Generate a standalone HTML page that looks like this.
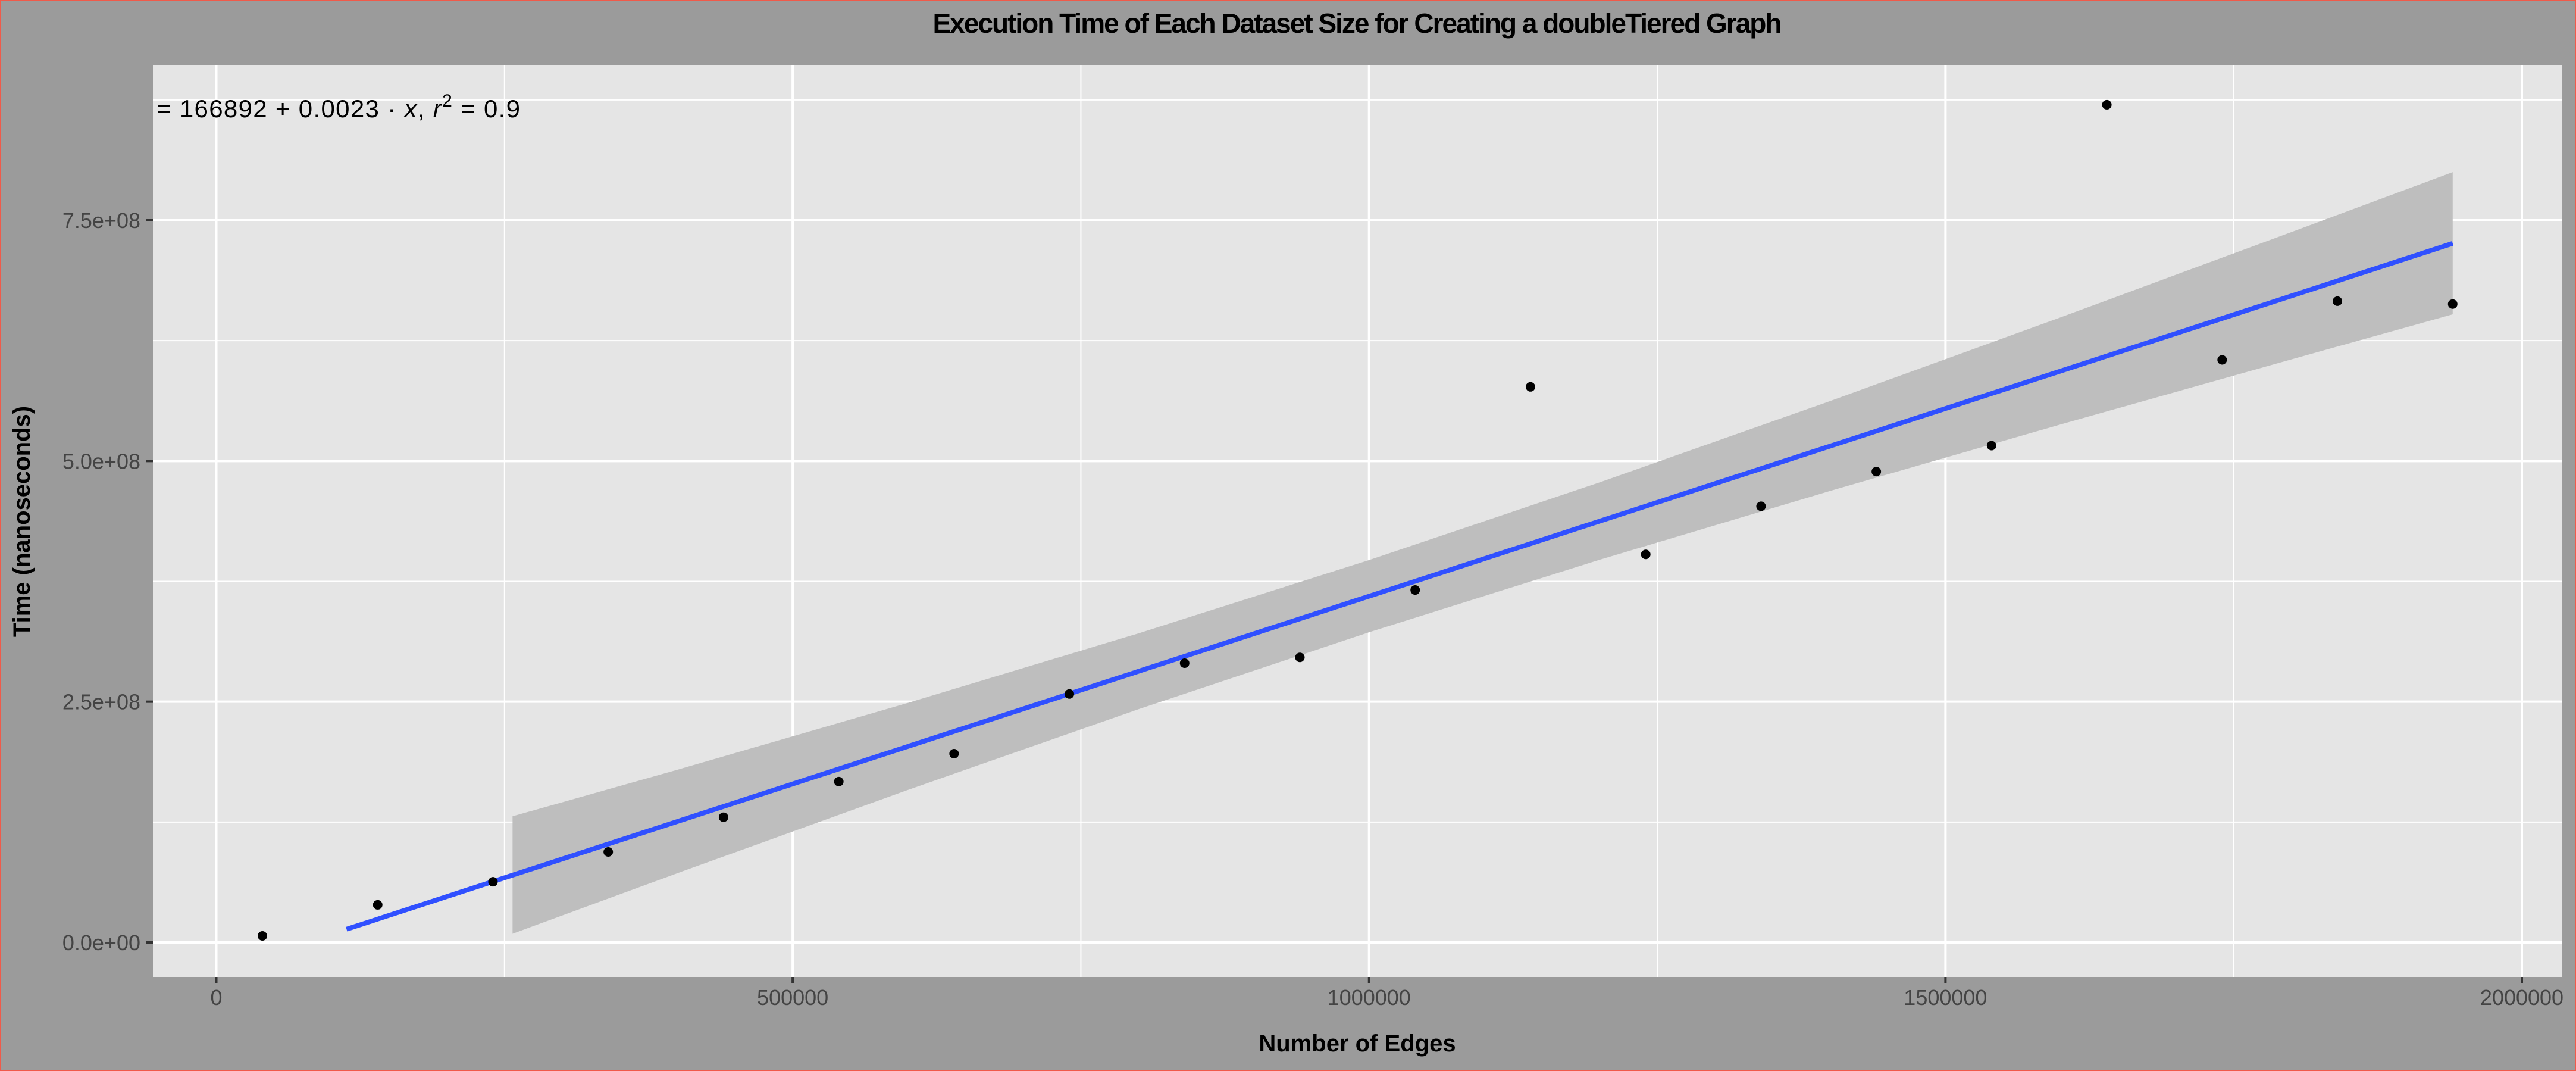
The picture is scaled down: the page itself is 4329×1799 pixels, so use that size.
<!DOCTYPE html>
<html><head><meta charset="utf-8">
<style>
html,body{margin:0;padding:0;background:#9b9b9b;}
svg{display:block;font-family:"Liberation Sans",sans-serif;}
</style></head>
<body>
<svg id="chart" width="4329" height="1799" viewBox="0 0 4329 1799">
<rect x="0" y="0" width="4329" height="1799" fill="#9b9b9b" stroke="#f05a4a" stroke-width="4"/>
<rect x="257" y="110" width="4049" height="1531" fill="#e5e5e5"/>
<g id="grid"></g>
<g id="band"></g>
<g id="trend"></g>
<g id="points"></g>
<g id="axes"></g>
<text x="2281" y="55" text-anchor="middle" font-size="46" font-weight="bold" fill="#000" textLength="1427">Execution Time of Each Dataset Size for Creating a doubleTiered Graph</text>
<text x="263" y="197" font-size="42" fill="#000" textLength="611">= 166892 + 0.0023 · <tspan font-style="italic">x</tspan>,  <tspan font-style="italic">r</tspan><tspan dy="-18" font-size="30">2</tspan><tspan dy="18"> = 0.9</tspan></text>
<text x="2281" y="1766" text-anchor="middle" font-size="40" font-weight="bold" fill="#000">Number of Edges</text>
<text transform="translate(50,876) rotate(-90)" text-anchor="middle" font-size="40" font-weight="bold" fill="#000">Time (nanoseconds)</text>
</svg>
<script>
const xValues = [40000,140000,240000,340000,440000,540000,640000,740000,840000,940000,1040000,1140000,1240000,1340000,1440000,1540000,1640000,1740000,1840000,1940000];
const yValues = [6.8e6,3.9e7,6.3e7,9.4e7,1.30e8,1.67e8,1.96e8,2.58e8,2.90e8,2.96e8,3.66e8,5.77e8,4.03e8,4.53e8,4.89e8,5.16e8,8.70e8,6.05e8,6.66e8,6.63e8];
const lineX = [113000,1940000];
const lineY = [1.37e7,7.26e8];
const bandX = [257000,400000,600000,800000,1000000,1200000,1400000,1600000,1800000,1940000];
const bandLo = [9.0e6,7.19e7,1.584e8,2.422e8,3.221e8,3.974e8,4.689e8,5.38e8,6.055e8,6.523e8];
const bandHi = [1.31e8,1.793e8,2.488e8,3.21e8,3.971e8,4.778e8,5.623e8,6.492e8,7.377e8,8.0e8];
const xTicks = [0,500000,1000000,1500000,2000000];
const xTickLabels = ["0","500000","1000000","1500000","2000000"];
const yTicks = [0,2.5e8,5e8,7.5e8];
const yTickLabels = ["0.0e+00","2.5e+08","5.0e+08","7.5e+08"];

const NS="http://www.w3.org/2000/svg";
const PL=257,PR=4306,PT=110,PB=1641;
function sx(v){return 363.5+(v/2000000)*(4238-363.5);}
function sy(v){return 1583-(v/7.5e8)*(1583-370);}
function mk(tag,attrs,parent){const e=document.createElementNS(NS,tag);for(const k in attrs)e.setAttribute(k,attrs[k]);parent.appendChild(e);return e;}
const grid=document.getElementById('grid');
for(let i=0;i<yTicks.length;i++){
  const v=yTicks[i]+1.25e8; const y=sy(v);
  if(y>PT&&y<PB){const l=mk('line',{x1:PL,x2:PR,y1:y,y2:y,stroke:'#fff','stroke-width':2},grid);
  
  }
}
for(let i=0;i<xTicks.length;i++){
  const v=xTicks[i]+250000; const x=sx(v);
  if(x>PL&&x<PR){const l=mk('line',{x1:x,x2:x,y1:PT,y2:PB,stroke:'#fff','stroke-width':2},grid);
  
  }
}
const axes=document.getElementById('axes');
yTicks.forEach((v,i)=>{
  const y=sy(v);
  const l=mk('line',{x1:PL,x2:PR,y1:y,y2:y,stroke:'#fff','stroke-width':4},grid);
  
  
  const t=mk('line',{x1:246,x2:PL,y1:y,y2:y,stroke:'#333','stroke-width':4},axes);
  
  
  const tx=mk('text',{x:236,y:y+13,'text-anchor':'end','font-size':36,fill:'#444'},axes);
  tx.textContent=yTickLabels[i];
  
  
});
xTicks.forEach((v,i)=>{
  const x=sx(v);
  const l=mk('line',{x1:x,x2:x,y1:PT,y2:PB,stroke:'#fff','stroke-width':4},grid);
  
  
  const t=mk('line',{x1:x,x2:x,y1:PB,y2:PB+11,stroke:'#333','stroke-width':4},axes);
  
  
  const tx=mk('text',{x:x,y:1688,'text-anchor':'middle','font-size':36,fill:'#444'},axes);
  tx.textContent=xTickLabels[i];
  
  
});
const band=document.getElementById('band');
let pts=[];
for(let i=0;i<bandX.length;i++)pts.push(sx(bandX[i])+','+sy(bandHi[i]));
for(let i=bandX.length-1;i>=0;i--)pts.push(sx(bandX[i])+','+sy(bandLo[i]));
const bp=mk('polygon',{points:pts.join(' '),fill:'#bebebe'},band);


const trend=document.getElementById('trend');
const tl=mk('polyline',{points:lineX.map((v,i)=>sx(v)+','+sy(lineY[i])).join(' '),fill:'none',stroke:'#3050ff','stroke-width':8},trend);


const pg=document.getElementById('points');
xValues.forEach((v,i)=>{
  const c=mk('circle',{cx:sx(v),cy:sy(yValues[i]),r:8,fill:'#000'},pg);
  
  
});
</script>
</body></html>
